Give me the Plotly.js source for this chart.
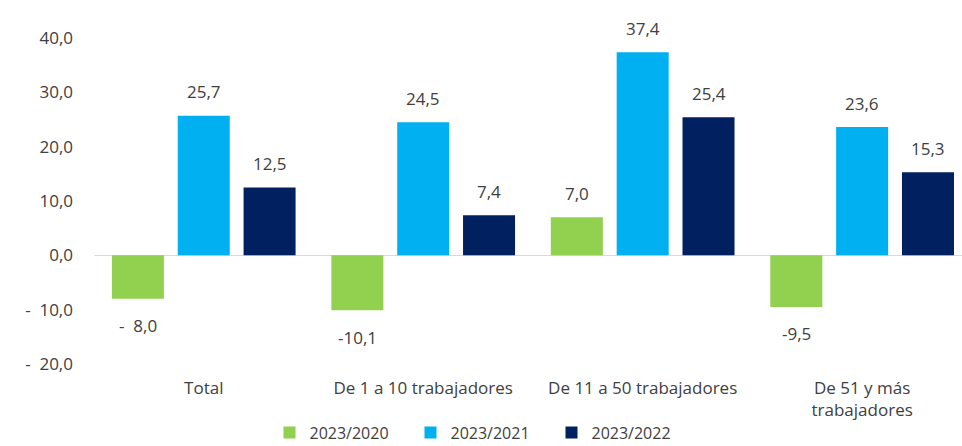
<!DOCTYPE html>
<html><head><meta charset="utf-8">
<script src="https://cdn.plot.ly/plotly-3.0.1.min.js"></script>
<style>html,body{margin:0;padding:0;background:#fff;}#c{width:962px;height:446px;}</style>
</head><body><div id="c"></div>
<script>
const categories = ["Total", "De 1 a 10 trabajadores", "De 11 a 50 trabajadores", "De 51 y más<br>trabajadores"];
const seriesNames = ["2023/2020", "2023/2021", "2023/2022"];
const v2020 = [-8.0, -10.1, 7.0, -9.5];
const v2021 = [25.7, 24.5, 37.4, 23.6];
const v2022 = [12.5, 7.4, 25.4, 15.3];
const labels2020 = ["-  8,0", "-10,1", "7,0", "-9,5"];
const labels2021 = ["25,7", "24,5", "37,4", "23,6"];
const labels2022 = ["12,5", "7,4", "25,4", "15,3"];
const yTickVals = [-20, -10, 0, 10, 20, 30, 40];
const yTickText = ["-  20,0", "-  10,0", "0,0", "10,0", "20,0", "30,0", "40,0"];
const colors = ["#92D050", "#00B0F0", "#002060"];

const FONT = "Open Sans, sans-serif";
const series = [v2020, v2021, v2022];
const seriesLabels = [labels2020, labels2021, labels2022];
const traces = series.map((vals, i) => ({
  type: "bar", name: seriesNames[i], x: categories, y: vals,
  marker: {color: colors[i]}, hoverinfo: "none"
}));

const annotations = [];
const slot = 66;
series.forEach((vals, i) => {
  vals.forEach((v, j) => {
    annotations.push({
      x: categories[j], y: v, xref: "x", yref: "y",
      text: seriesLabels[i][j], showarrow: false,
      xshift: (i - 1) * slot, yshift: v >= 0 ? 24 : -27,
      yanchor: "middle", xanchor: "center",
      font: {family: FONT, size: 17, color: "#404040"}
    });
  });
});

const layout = {
  width: 962, height: 446,
  margin: {l: 94, r: 0, t: 38, b: 82},
  paper_bgcolor: "#fff", plot_bgcolor: "#fff",
  barmode: "group", bargap: 0.1, bargroupgap: 0.21,
  showlegend: true,
  legend: {orientation: "h", x: 0.5, xanchor: "center", xref: "container",
           y: 0.03, yref: "container", yanchor: "middle",
           entrywidth: 96, entrywidthmode: "pixels", itemwidth: 30,
           font: {family: FONT, size: 16, color: "#404040"}, traceorder: "normal"},
  xaxis: {type: "category", range: [-0.5, 3.455], showgrid: false, zeroline: false,
          showline: false, ticks: "", ticklabelstandoff: 12,
          tickfont: {family: FONT, size: 17, color: "#404040"}},
  yaxis: {range: [-20, 40], tickvals: yTickVals, ticktext: yTickText,
          showgrid: false, zeroline: true, zerolinecolor: "#d9d9d9", zerolinewidth: 1,
          showline: false, ticks: "", ticklabelstandoff: 20,
          tickfont: {family: FONT, size: 17, color: "#404040"}},
  annotations: annotations,
  font: {family: FONT}
};
Plotly.newPlot("c", traces, layout, {displayModeBar: false, staticPlot: true});
</script></body></html>
